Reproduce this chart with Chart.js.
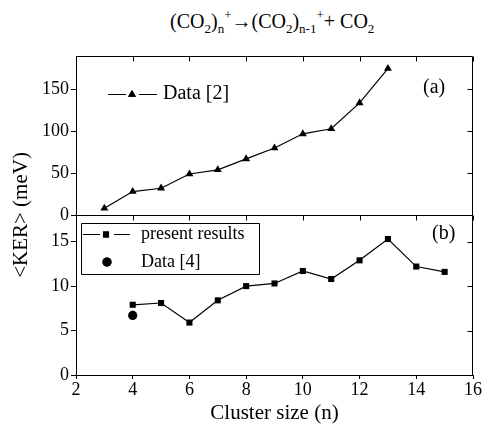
<!DOCTYPE html>
<html><head><meta charset="utf-8">
<script src="https://cdn.jsdelivr.net/npm/chart.js@4.4.0/dist/chart.umd.min.js"></script>
<style>
html,body{margin:0;padding:0;background:#fff;}
#wrap{position:relative;width:484px;height:429px;overflow:hidden;font-family:"Liberation Serif","DejaVu Serif",serif;color:#000;}
canvas{position:absolute;left:0;top:0;}
#title{position:absolute;left:170px;top:9px;font-size:20px;white-space:nowrap;line-height:24px;}
#title sub{font-size:13px;vertical-align:-5px;line-height:0;}
#title sup{font-size:13px;vertical-align:9px;line-height:0;}
</style></head>
<body><div id="wrap">
<div id="title">(CO<sub>2</sub>)<sub>n</sub><sup>+</sup>→(CO<sub>2</sub>)<sub>n-1</sub><sup>+</sup>+ CO<sub>2</sub></div>
<canvas id="cA" width="484" height="429"></canvas>
<canvas id="cB" width="484" height="429"></canvas>
</div>
<script>
// ---- data ----
const clusterA = [3, 4, 5, 6, 7, 8, 9, 10, 11, 12, 13];
const kerA     = [8, 28, 32, 49, 54, 67, 80, 97, 103, 134, 175];   // Data [2]
const clusterB = [4, 5, 6, 7, 8, 9, 10, 11, 12, 13, 14, 15];
const kerB     = [7.9, 8.1, 5.9, 8.4, 10.0, 10.3, 11.7, 10.8, 12.9, 15.3, 12.2, 11.6]; // present results
const clusterC = [4];
const kerC     = [6.7];                                            // Data [4]
const xTicks   = [2, 4, 6, 8, 10, 12, 14, 16];
const yTicksA  = [0, 50, 100, 150];
const yTicksB  = [0, 5, 10, 15];
const labelA = 'Data [2]';
const labelB = 'present results';
const labelC = 'Data [4]';
const yTitle = '<KER> (meV)';

const FONT = "'Liberation Serif', 'DejaVu Serif', serif";
const pts = (xs, ys) => xs.map((x, i) => ({x: x, y: ys[i]}));

function framePlugin(yTicks, panelLabel, legendFn) {
  return {
    id: 'frame',
    afterDraw(chart) {
      const ctx = chart.ctx;
      const a = chart.chartArea;
      const x = chart.scales.x, y = chart.scales.y;
      const L = Math.round(a.left) + 0.5, R = Math.round(a.right) - 0.5;
      const T = Math.round(a.top) + 0.5, B = Math.round(a.bottom) + 0.5;
      ctx.save();
      ctx.strokeStyle = '#000';
      ctx.lineWidth = 1;
      ctx.beginPath();
      ctx.rect(L, T, R - L, B - T);
      ctx.stroke();
      ctx.beginPath();
      xTicks.forEach(v => {
        const px = Math.round(x.getPixelForValue(v)) + 0.5;
        ctx.moveTo(px, T); ctx.lineTo(px, T + 5);
      });
      yTicks.forEach(v => {
        const py = Math.round(y.getPixelForValue(v)) + 0.5;
        ctx.moveTo(R, py); ctx.lineTo(R - 5, py);
      });
      ctx.stroke();
      ctx.fillStyle = '#000';
      ctx.font = '20px ' + FONT;
      ctx.textBaseline = 'middle';
      ctx.textAlign = 'left';
      ctx.fillText(panelLabel.text, panelLabel.x, panelLabel.y);
      legendFn(ctx, chart);
      ctx.restore();
    }
  };
}

function yScale(max, ticks) {
  return {
    type: 'linear', min: 0, max: max,
    afterBuildTicks: s => { s.ticks = ticks.map(v => ({value: v})); },
    afterFit: s => { s.width = 76; },
    ticks: {color: '#000', font: {family: FONT, size: 18, lineHeight: 1}, padding: 2},
    grid: {drawOnChartArea: false, drawTicks: true, tickLength: 5, color: '#000'},
    border: {color: '#000'}
  };
}

const common = {
  responsive: false, animation: false, events: [],
  plugins: {legend: {display: false}, tooltip: {enabled: false}}
};

// ---------- panel (a) ----------
new Chart(document.getElementById('cA'), {
  type: 'scatter',
  data: {datasets: [{
    label: labelA, data: pts(clusterA, kerA), showLine: true,
    borderColor: '#000', borderWidth: 1.2, pointStyle: 'triangle', pointRadius: 4.6,
    pointBackgroundColor: '#000', pointBorderColor: '#000', pointBorderWidth: 0
  }]},
  options: Object.assign({}, common, {
    layout: {padding: {top: 56, left: 0, right: 11, bottom: 214}},
    scales: {
      x: {type: 'linear', min: 2, max: 16, display: false},
      y: yScale(190, yTicksA)
    }
  }),
  plugins: [framePlugin(yTicksA, {text: '(a)', x: 423, y: 88}, (ctx) => {
    ctx.beginPath();
    ctx.moveTo(108, 94.5); ctx.lineTo(126, 94.5);
    ctx.moveTo(139, 94.5); ctx.lineTo(157, 94.5);
    ctx.stroke();
    Chart.helpers.drawPoint(ctx, {pointStyle: 'triangle', radius: 4.6, borderWidth: 0}, 132, 94.5);
    ctx.fill();
    ctx.font = '20px ' + FONT;
    ctx.fillText(labelA, 163, 94);
  })]
});

// ---------- panel (b) ----------
new Chart(document.getElementById('cB'), {
  type: 'scatter',
  data: {datasets: [
    {label: labelB, data: pts(clusterB, kerB), showLine: true,
     borderColor: '#000', borderWidth: 1.2, pointStyle: 'rect', pointRadius: 4.3,
     pointBackgroundColor: '#000', pointBorderColor: '#000', pointBorderWidth: 0},
    {label: labelC, data: pts(clusterC, kerC), showLine: false,
     pointStyle: 'circle', pointRadius: 4.6,
     pointBackgroundColor: '#000', pointBorderColor: '#000', pointBorderWidth: 0}
  ]},
  options: Object.assign({}, common, {
    layout: {padding: {top: 215, left: 0, right: 11, bottom: 0}},
    scales: {
      x: {
        type: 'linear', min: 2, max: 16,
        afterBuildTicks: s => { s.ticks = xTicks.map(v => ({value: v})); },
        afterFit: s => { s.height = 54; },
        ticks: {color: '#000', font: {family: FONT, size: 18, lineHeight: 1}, padding: 2, maxRotation: 0},
        grid: {drawOnChartArea: false, drawTicks: true, tickLength: 4, color: '#000'},
        border: {color: '#000'},
        title: {display: true, text: 'Cluster size (n)', color: '#000',
                font: {family: FONT, size: 21}, padding: {top: 0, bottom: 3}}
      },
      y: yScale(18, yTicksB)
    }
  }),
  plugins: [framePlugin(yTicksB, {text: '(b)', x: 432, y: 234}, (ctx) => {
    ctx.beginPath();
    ctx.rect(81.5, 223.5, 178, 51);
    ctx.moveTo(83, 234.5); ctx.lineTo(100, 234.5);
    ctx.moveTo(114, 234.5); ctx.lineTo(130, 234.5);
    ctx.stroke();
    Chart.helpers.drawPoint(ctx, {pointStyle: 'rect', radius: 4.3, borderWidth: 0}, 106, 234.5);
    ctx.fill();
    Chart.helpers.drawPoint(ctx, {pointStyle: 'circle', radius: 4.6, borderWidth: 0}, 107, 262);
    ctx.fill();
    ctx.font = '18px ' + FONT;
    ctx.fillText(labelB, 141, 234);
    ctx.fillText(labelC, 141, 262);
    // shared y-axis title spanning both panels
    ctx.save();
    ctx.translate(21, 215);
    ctx.rotate(-Math.PI / 2);
    ctx.textAlign = 'center';
    ctx.textBaseline = 'middle';
    ctx.font = '21px ' + FONT;
    ctx.fillText(yTitle, 0, 0);
    ctx.restore();
  })]
});
</script>
</body></html>
